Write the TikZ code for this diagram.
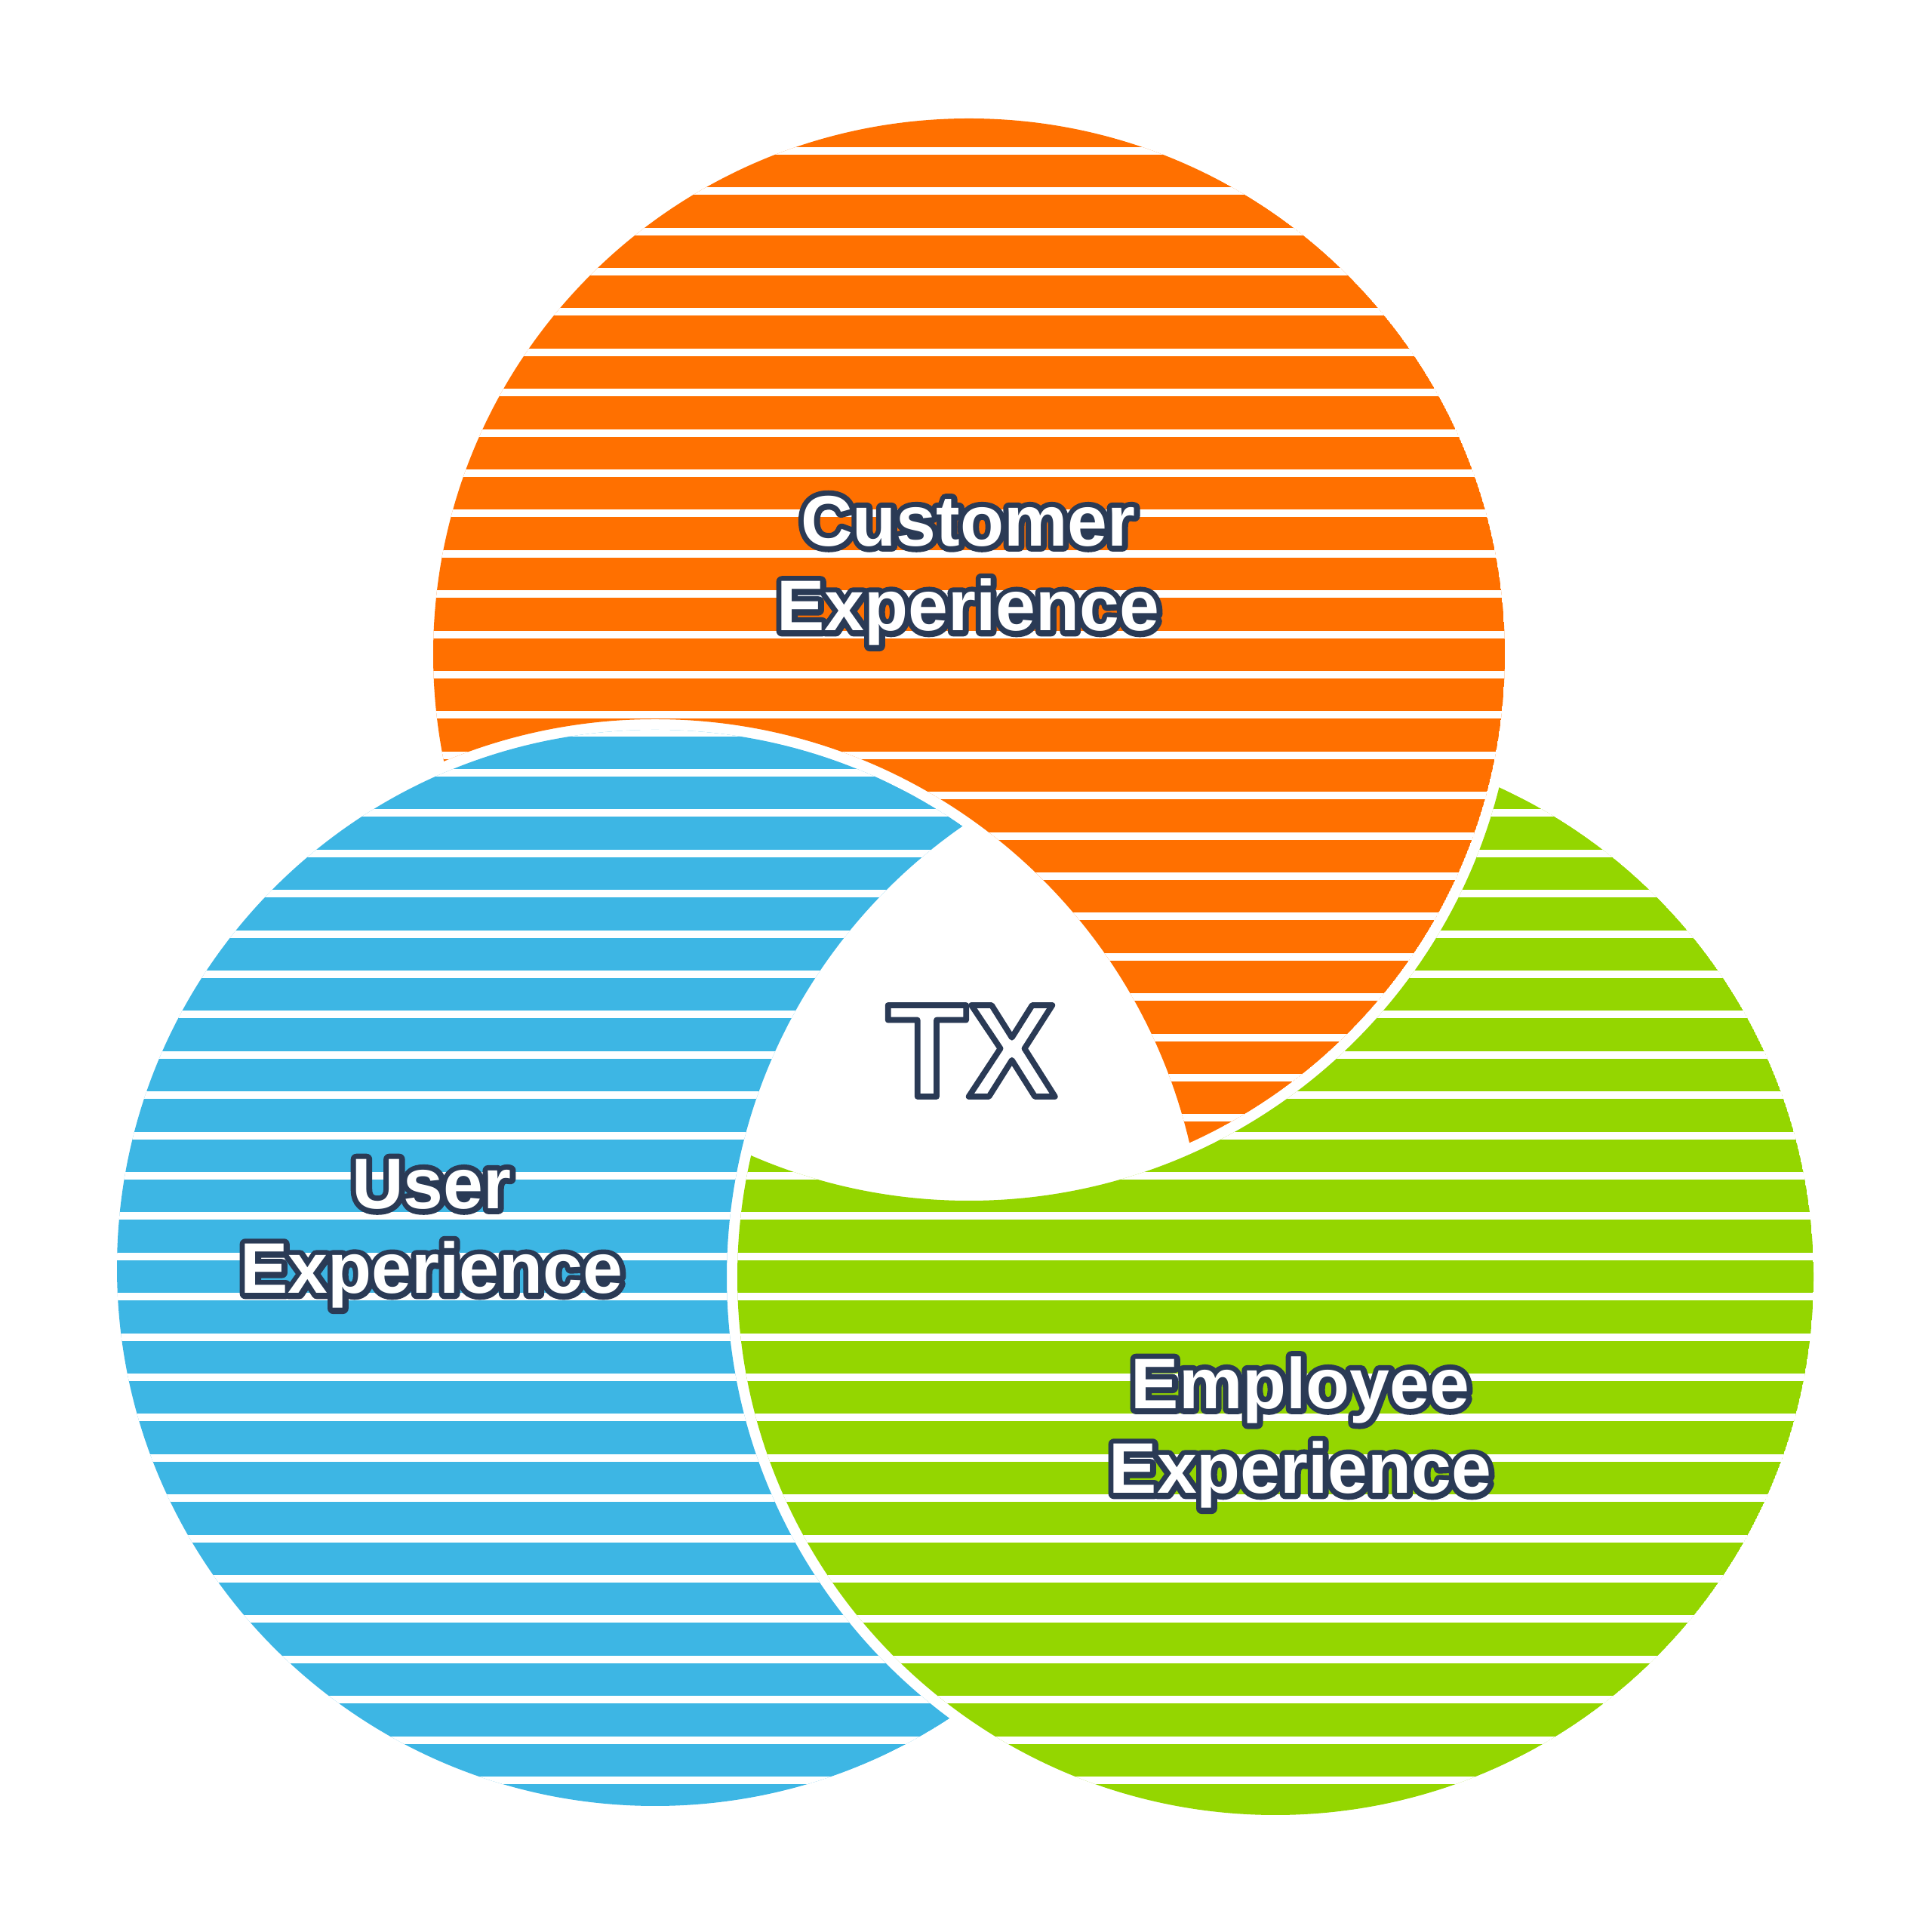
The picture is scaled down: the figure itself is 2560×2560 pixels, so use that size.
\documentclass[tikz,border=0pt]{standalone}
\usepackage{fontspec}
\setmainfont{Liberation Sans}
\definecolor{cxorange}{RGB}{255,112,0}
\definecolor{uxblue}{RGB}{61,182,228}
\definecolor{exgreen}{RGB}{148,214,0}
\newcommand{\strk}[2]{\special{pdf:literal direct 0.165 0.227 0.333 RG #1 w 1 j 1 J #2}}
\newcommand{\outl}[1]{\makebox[0pt][l]{\strk{4.2}{1 Tr}#1\strk{4.2}{0 Tr}}#1}
\newcommand{\hollow}[1]{\strk{2.2}{2 Tr}#1\strk{2.2}{0 Tr}}

\begin{document}
\begin{tikzpicture}[x=0.01cm,y=0.01cm,
  stripe/.style={white, line width=0.1cm},
  venntext/.style={align=center, anchor=base, text=white, inner sep=0pt,
    font=\bfseries\fontsize{27}{32}\selectfont}]
\useasboundingbox (0,0) rectangle (2560,2560);
\coordinate (cx) at (1284,1693);
\coordinate (ux) at (868,880);
\coordinate (ex) at (1690,868);
% user experience, cut by employee
\begin{scope}
\clip (-100,-100) -- (-100,2700) -- (2700,2700) -- (2700,-100) -- cycle (ex) circle (727);
\clip (ux) circle (713);
\fill[uxblue] (ux) circle (713);
\foreach \k in {0,...,48}
  \draw[stripe] (0,{2550.5-53.4*\k}) -- (2560,{2550.5-53.4*\k});
\end{scope}
% customer experience, cut by user
\begin{scope}
\clip (-100,-100) -- (-100,2700) -- (2700,2700) -- (2700,-100) -- cycle (ux) circle (727);
\clip (cx) circle (710);
\fill[cxorange] (cx) circle (710);
\foreach \k in {0,...,48}
  \draw[stripe] (0,{2520.4-53.4*\k}) -- (2560,{2520.4-53.4*\k});
\end{scope}
% employee experience, cut by customer
\begin{scope}
\clip (-100,-100) -- (-100,2700) -- (2700,2700) -- (2700,-100) -- cycle (cx) circle (724);
\clip (ex) circle (713);
\fill[exgreen] (ex) circle (713);
\foreach \k in {0,...,48}
  \draw[stripe] (0,{2550.5-53.4*\k}) -- (2560,{2550.5-53.4*\k});
\end{scope}
\node[venntext] (cxlabel) at (1283,1724) {\outl{Customer}\\\outl{Experience}};
\node[venntext] (uxlabel) at (572,846) {\outl{User}\\\outl{Experience}};
\node[venntext] (exlabel) at (1723,581) {\outl{Employee}\\\outl{Experience}};
\node[venntext, font=\bfseries\fontsize{50}{56}\selectfont] (tx) at (1287,1107) {\hollow{TX}};
\end{tikzpicture}
\end{document}
